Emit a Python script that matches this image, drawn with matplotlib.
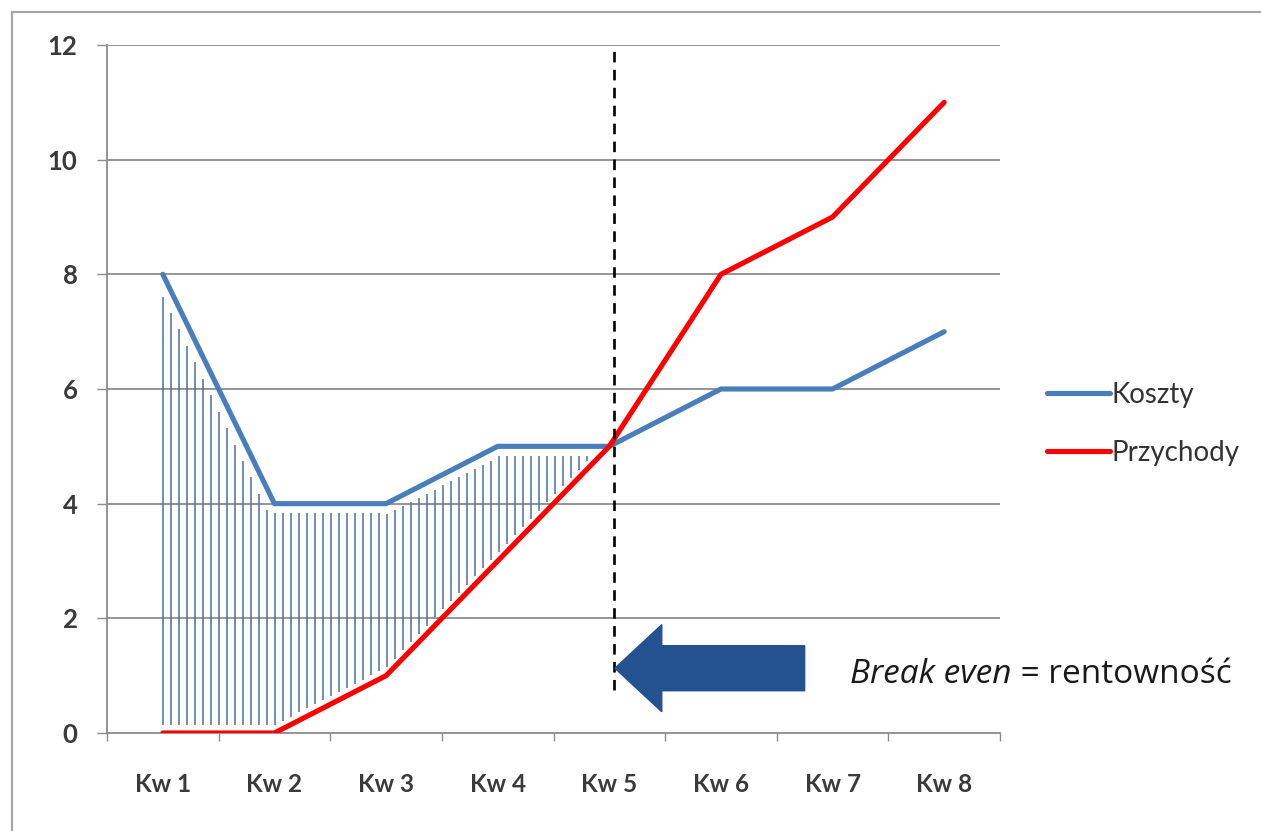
import numpy as np
import matplotlib
matplotlib.use("Agg")
import matplotlib.pyplot as plt
from matplotlib.patches import Rectangle, FancyArrow
from matplotlib.transforms import offset_copy

# ---- data ----
categories = ["Kw 1", "Kw 2", "Kw 3", "Kw 4", "Kw 5", "Kw 6", "Kw 7", "Kw 8"]
koszty = [8, 4, 4, 5, 5, 6, 6, 7]
przychody = [0, 0, 1, 3, 5, 8, 9, 11]
y_ticks = [0, 2, 4, 6, 8, 10, 12]
break_even_label_italic = "Break even"
break_even_label_rest = " = rentowność"

plt.rcParams['font.family'] = ['Lato', 'DejaVu Sans']

W, H = 1261, 831
fig = plt.figure(figsize=(W / 100, H / 100), dpi=100)
ax = fig.add_axes([107 / W, 1 - 733 / H, (1000 - 107) / W, (733 - 45) / H])

x = np.arange(1, len(categories) + 1)
blue = "#4A7EBB"
red = "#FF0000"
grid_c = "#8c8c8c"

# grid
for v in y_ticks[1:]:
    ax.axhline(v, color=grid_c, lw=1.3, zorder=1)

# hatch between the lines (region before break-even)
step = 8 / 111.6
hx = np.arange(1.0, 5.0, step)
kz = np.array(koszty, float)
pz = np.array(przychody, float)
idx = np.clip(np.floor(hx - 1).astype(int), 0, len(x) - 2)
slope = kz[idx + 1] - kz[idx]
top = np.interp(hx, x, kz) - 0.17 * np.sqrt(1 + (slope * 57.33 / 111.6) ** 2)
bot = np.interp(hx, x, pz) + 0.14
mask = top > bot
ax.vlines(hx[mask], bot[mask], top[mask], color="#4f6f9a", lw=1.1, zorder=2)

# lines
ax.plot(x, koszty, color=blue, lw=3.7, label="Koszty", zorder=4, solid_capstyle='round')
ax.plot(x, przychody, color=red, lw=3.7, label="Przychody", zorder=5, solid_capstyle='round')

# break-even dashed line
ax.plot([5.04, 5.04], [0.75, 12], color="black", lw=1.9, ls=(0, (4, 2.8)), zorder=6)

ax.set_xlim(0.5, len(categories) + 0.5)
ax.set_ylim(0, 12)

# arrow
arr = FancyArrow(6.75, 1.13, -1.70, 0, width=0.785, head_width=1.52,
                 head_length=0.42, length_includes_head=True,
                 color="#245290", zorder=7)
ax.add_patch(arr)

# annotation text
tx, ty = 7.16, 0.87
t1 = ax.text(tx, ty, break_even_label_italic, fontsize=24, style='italic',
             color="#1a1a1a", va='baseline', ha='left', zorder=8,
             family=['Open Sans', 'DejaVu Sans'])
fig.canvas.draw()
w1 = t1.get_window_extent(renderer=fig.canvas.get_renderer()).width
ax.text(tx, ty, break_even_label_rest, fontsize=24, color="#1a1a1a",
        va='baseline', ha='left', zorder=8, family=['Open Sans', 'DejaVu Sans'],
        transform=offset_copy(ax.transData, fig=fig, x=w1, y=0, units='dots'))

# axes styling
for s in ['top', 'right']:
    ax.spines[s].set_visible(False)
ax.spines['left'].set_color(grid_c)
ax.spines['bottom'].set_color(grid_c)
ax.spines['left'].set_linewidth(1.3)
ax.spines['bottom'].set_linewidth(1.3)

ax.set_yticks(y_ticks)
ax.set_yticklabels([str(v) for v in y_ticks])
ax.tick_params(axis='y', length=7.2, width=1, color=grid_c, pad=14,
               labelsize=18.5, labelcolor="#3a3a3a")
ax.set_xticks(x)
ax.set_xticklabels(categories)
ax.set_xticks(np.arange(0.5, len(categories) + 1), minor=True)
ax.tick_params(axis='x', which='major', length=0, pad=29, labelsize=17.5,
               labelcolor="#3a3a3a")
ax.tick_params(axis='x', which='minor', length=6, width=1, color=grid_c)
for lab in ax.get_xticklabels() + ax.get_yticklabels():
    lab.set_fontweight('bold')

leg = ax.legend(loc='center left', bbox_to_anchor=(1047 / W, 1 - 424 / H),
                bbox_transform=fig.transFigure, frameon=False, fontsize=20,
                handlelength=2.27, handletextpad=0.05, labelspacing=1.14,
                borderpad=0, borderaxespad=0)
for t in leg.get_texts():
    t.set_color("#333333")

# outer frame
fig.patches.append(Rectangle((12 / W, -0.5), 2, 1.5 - 12 / H, transform=fig.transFigure,
                             fill=False, edgecolor="#a6a6a6", lw=1.6, zorder=0))

fig.savefig("out.png", dpi=100)
